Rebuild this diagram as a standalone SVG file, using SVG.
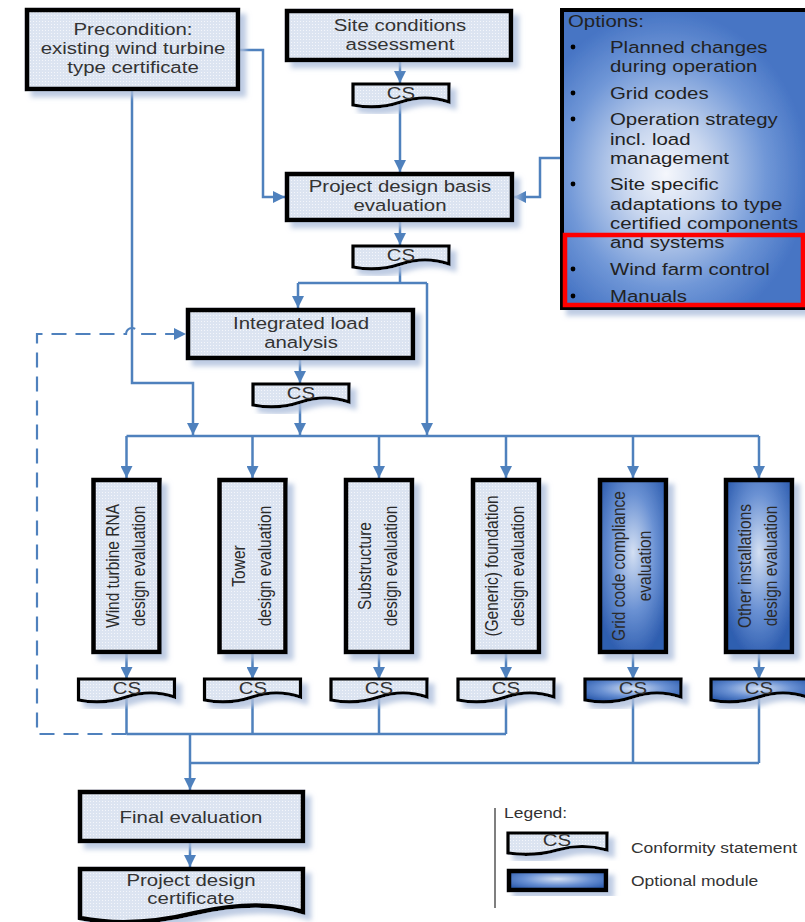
<svg xmlns="http://www.w3.org/2000/svg" width="805" height="922" viewBox="0 0 805 922">
<defs>
<style>
.c{fill:none;stroke:#4f81bd;stroke-width:2.5}
.a{marker-end:url(#arr)}
.d{fill:none;stroke:#4f81bd;stroke-width:2.2;stroke-dasharray:15 9}
.box{fill:url(#dots);stroke:#000;stroke-width:4.5}
.ob{fill:url(#optCol);stroke:#000;stroke-width:4.5}
.cs{fill:url(#dots);stroke:#000;stroke-width:3.2}
.ocs{fill:url(#optCol);stroke:#000;stroke-width:3.2}
.sh{filter:url(#shadow)}
.t{font-family:"Liberation Sans",Arial,sans-serif;font-size:17px;fill:#333;text-anchor:middle}
.v{font-size:15.5px;fill:#2a2a2a}
.l{text-anchor:start;fill:#222}
.g{font-family:"Liberation Sans",Arial,sans-serif;font-size:14px;fill:#333}
</style>
<pattern id="dots" width="3" height="3" patternUnits="userSpaceOnUse">
<rect width="3" height="3" fill="#dce4f1"/><rect width="1" height="1" fill="#f4f6fb"/>
</pattern>
<radialGradient id="optCol" cx="50%" cy="42%" r="62%">
<stop offset="0" stop-color="#d4e0f3"/><stop offset="0.55" stop-color="#6a91d3"/><stop offset="1" stop-color="#2f5eb0"/>
</radialGradient>
<radialGradient id="optBig" cx="40%" cy="55%" r="55%">
<stop offset="0" stop-color="#f5f7fc"/><stop offset="0.3" stop-color="#c9d7ef"/><stop offset="0.7" stop-color="#7097d7"/><stop offset="1" stop-color="#4674c4"/>
</radialGradient>
<filter id="shadow" x="-20%" y="-20%" width="150%" height="150%">
<feDropShadow dx="6" dy="6" stdDeviation="2.5" flood-color="#aebfdc" flood-opacity="0.8"/>
</filter>
<marker id="arr" viewBox="0 0 12 12" refX="12" refY="6" markerWidth="12" markerHeight="12" markerUnits="userSpaceOnUse" orient="auto">
<path d="M0,0 L12,6 L0,12 z" fill="#4f81bd"/>
</marker>
</defs>
<rect width="805" height="922" fill="#fff"/>

<g id="connectors">
<path class="c a" d="M400,62 V83"/>
<path class="c a" d="M400,104 V172"/>
<path class="c a" d="M400,222 V245"/>
<path class="c a" d="M240,50 H263 V197 H285"/>
<path class="c a" d="M561,158 H540 V197 H514"/>
<path class="c" d="M400,267 V283 M298,283 H427"/>
<path class="c a" d="M298,283 V308"/>
<path class="c a" d="M427,283 V435"/>
<path class="c a" d="M132,91 V383 H193 V435"/>
<path class="c a" d="M300,360 V383"/>
<path class="c a" d="M300,404 V435"/>
<path class="c" d="M126.5,436 H759"/>
<path class="c a" d="M126.5,436 V478"/>
<path class="c a" d="M252.5,436 V478"/>
<path class="c a" d="M379,436 V478"/>
<path class="c a" d="M506,436 V478"/>
<path class="c a" d="M633,436 V478"/>
<path class="c a" d="M759,436 V478"/>
<path class="c a" d="M126.5,654 V679"/>
<path class="c a" d="M252.5,654 V679"/>
<path class="c a" d="M379,654 V679"/>
<path class="c a" d="M506,654 V679"/>
<path class="c a" d="M633,654 V679"/>
<path class="c a" d="M759,654 V679"/>
<path class="c" d="M126.5,699 V734 M252.5,699 V734 M379,699 V734 M506,699 V734 M126.5,734 H506"/>
<path class="c" d="M633,699 V763 M759,699 V763 M190,763 H759"/>
<path class="c a" d="M190,734 V790"/>
<path class="c a" d="M190,843 V867"/>
<path class="d a" d="M126.5,734 H37 V334 H126 A6,6 0 0 1 138,334 H186"/>
</g>

<g id="precondition">
<rect class="box sh" x="27" y="10" width="211" height="79"/>
<text class="t" transform="translate(133,35) scale(1.2,1)">Precondition:</text>
<text class="t" transform="translate(133,54) scale(1.2,1)">existing wind turbine</text>
<text class="t" transform="translate(133,73) scale(1.2,1)">type certificate</text>
</g>

<g id="site">
<rect class="box sh" x="287" y="11" width="224" height="49"/>
<text class="t" transform="translate(400,31) scale(1.2,1)">Site conditions</text>
<text class="t" transform="translate(400,50) scale(1.2,1)">assessment</text>
</g>

<g id="cs1">
<path class="cs sh" d="M353,84 H449 V102 Q425,94 401,102 T353,105 Z"/>
<text class="t" transform="translate(401,99) scale(1.2,1)">CS</text>
</g>

<g id="pdb">
<rect class="box sh" x="287" y="174" width="225" height="46"/>
<text class="t" transform="translate(400,192) scale(1.2,1)">Project design basis</text>
<text class="t" transform="translate(400,211) scale(1.2,1)">evaluation</text>
</g>

<g id="cs2">
<path class="cs sh" d="M353,246 H449 V264 Q425,256 401,264 T353,267 Z"/>
<text class="t" transform="translate(401,261) scale(1.2,1)">CS</text>
</g>

<g id="options">
<rect class="sh" x="562" y="10" width="260" height="298" fill="url(#optBig)" stroke="#000" stroke-width="4"/>
<text class="t l" transform="translate(568,27) scale(1.2,1)">Options:</text>
<g fill="#000">
<circle cx="573" cy="47" r="2.4"/><circle cx="573" cy="93" r="2.4"/><circle cx="573" cy="119" r="2.4"/>
<circle cx="573" cy="184" r="2.4"/><circle cx="573" cy="269" r="2.4"/><circle cx="573" cy="296" r="2.4"/>
</g>
<text class="t l" transform="translate(610,53) scale(1.2,1)">Planned changes</text>
<text class="t l" transform="translate(610,72) scale(1.2,1)">during operation</text>
<text class="t l" transform="translate(610,99) scale(1.2,1)">Grid codes</text>
<text class="t l" transform="translate(610,125) scale(1.2,1)">Operation strategy</text>
<text class="t l" transform="translate(610,145) scale(1.2,1)">incl. load</text>
<text class="t l" transform="translate(610,164) scale(1.2,1)">management</text>
<text class="t l" transform="translate(610,190) scale(1.2,1)">Site specific</text>
<text class="t l" transform="translate(610,210) scale(1.2,1)">adaptations to type</text>
<text class="t l" transform="translate(610,229) scale(1.2,1)">certified components</text>
<text class="t l" transform="translate(610,248) scale(1.2,1)">and systems</text>
<text class="t l" transform="translate(610,275) scale(1.2,1)">Wind farm control</text>
<text class="t l" transform="translate(610,302) scale(1.2,1)">Manuals</text>
<rect x="565" y="235" width="238" height="70" fill="none" stroke="#ff0000" stroke-width="4.5"/>
</g>

<g id="ila">
<rect class="box sh" x="188" y="310" width="225" height="48"/>
<text class="t" transform="translate(301,329) scale(1.2,1)">Integrated load</text>
<text class="t" transform="translate(301,348) scale(1.2,1)">analysis</text>
</g>

<g id="cs3">
<path class="cs sh" d="M253,384 H349 V402 Q325,394 301,402 T253,405 Z"/>
<text class="t" transform="translate(301,399) scale(1.2,1)">CS</text>
</g>

<g id="col1">
<rect class="box sh" x="93.5" y="480" width="66" height="172"/>
<text class="t v" transform="translate(118.5,566) rotate(-90) scale(1,1.2)">Wind turbine RNA</text>
<text class="t v" transform="translate(144.5,566) rotate(-90) scale(1,1.2)">design evaluation</text>
</g>
<g id="col2">
<rect class="box sh" x="219.5" y="480" width="66" height="172"/>
<text class="t v" transform="translate(244.5,566) rotate(-90) scale(1,1.2)">Tower</text>
<text class="t v" transform="translate(270.5,566) rotate(-90) scale(1,1.2)">design evaluation</text>
</g>
<g id="col3">
<rect class="box sh" x="346" y="480" width="66" height="172"/>
<text class="t v" transform="translate(371,566) rotate(-90) scale(1,1.2)">Substructure</text>
<text class="t v" transform="translate(397,566) rotate(-90) scale(1,1.2)">design evaluation</text>
</g>
<g id="col4">
<rect class="box sh" x="473" y="480" width="66" height="172"/>
<text class="t v" transform="translate(498,566) rotate(-90) scale(1,1.2)">(Generic) foundation</text>
<text class="t v" transform="translate(524,566) rotate(-90) scale(1,1.2)">design evaluation</text>
</g>
<g id="col5">
<rect class="ob sh" x="600" y="480" width="66" height="172"/>
<text class="t v" transform="translate(625,566) rotate(-90) scale(1,1.2)">Grid code compliance</text>
<text class="t v" transform="translate(651,566) rotate(-90) scale(1,1.2)">evaluation</text>
</g>
<g id="col6">
<rect class="ob sh" x="726" y="480" width="66" height="172"/>
<text class="t v" transform="translate(751,566) rotate(-90) scale(1,1.2)">Other installations</text>
<text class="t v" transform="translate(777,566) rotate(-90) scale(1,1.2)">design evaluation</text>
</g>

<g id="cs-col1">
<path class="cs sh" d="M78.5,679 H174.5 V697 Q150.5,689 126.5,697 T78.5,700 Z"/>
<text class="t" transform="translate(127,694) scale(1.2,1)">CS</text>
</g>
<g id="cs-col2">
<path class="cs sh" d="M204.5,679 H300.5 V697 Q276.5,689 252.5,697 T204.5,700 Z"/>
<text class="t" transform="translate(253,694) scale(1.2,1)">CS</text>
</g>
<g id="cs-col3">
<path class="cs sh" d="M331,679 H427 V697 Q403,689 379,697 T331,700 Z"/>
<text class="t" transform="translate(379,694) scale(1.2,1)">CS</text>
</g>
<g id="cs-col4">
<path class="cs sh" d="M458,679 H554 V697 Q530,689 506,697 T458,700 Z"/>
<text class="t" transform="translate(506,694) scale(1.2,1)">CS</text>
</g>
<g id="cs-col5">
<path class="ocs sh" d="M585,679 H681 V697 Q657,689 633,697 T585,700 Z"/>
<text class="t" transform="translate(633,694) scale(1.2,1)">CS</text>
</g>
<g id="cs-col6">
<path class="ocs sh" d="M711,679 H807 V697 Q783,689 759,697 T711,700 Z"/>
<text class="t" transform="translate(759,694) scale(1.2,1)">CS</text>
</g>

<g id="final">
<rect class="box sh" x="80" y="792" width="223" height="49"/>
<text class="t" transform="translate(191,823) scale(1.2,1)">Final evaluation</text>
</g>

<g id="certificate">
<path class="box sh" d="M80,869 H303 V912 C270,902 235,904 195,913 C150,924 110,924 80,918 Z"/>
<text class="t" transform="translate(191,886) scale(1.2,1)">Project design</text>
<text class="t" transform="translate(191,904) scale(1.2,1)">certificate</text>
</g>

<g id="legend">
<line x1="495" y1="808" x2="495" y2="908" stroke="#555" stroke-width="1.5"/>
<text class="g" transform="translate(504,818) scale(1.25,1)">Legend:</text>
<path class="cs sh" d="M508,833 H607 V850 Q582,843 557.5,850 T508,853 Z"/>
<text class="t" transform="translate(557,846) scale(1.2,1)">CS</text>
<text class="g" transform="translate(631,853) scale(1.25,1)">Conformity statement</text>
<rect class="ob sh" x="509" y="871" width="97" height="19"/>
<text class="g" transform="translate(631,886) scale(1.25,1)">Optional module</text>
</g>
</svg>
